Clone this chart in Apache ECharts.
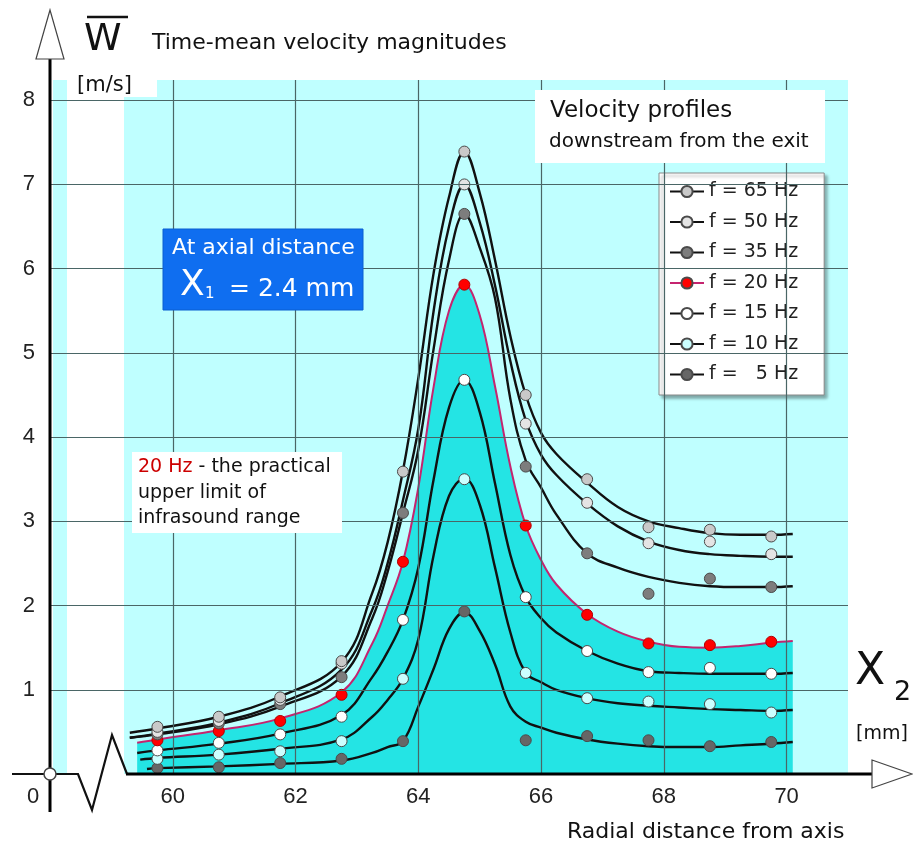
<!DOCTYPE html>
<html>
<head>
<meta charset="utf-8">
<script src="https://cdn.jsdelivr.net/npm/echarts@6/dist/echarts.min.js"></script>
<style>html,body{margin:0;padding:0;background:#fff}#main{width:913px;height:852px}</style>
</head>
<body>
<div id="main"></div>
<script>
// ---- data ----
const freqNames = ['f = 65 Hz', 'f = 50 Hz', 'f = 35 Hz', 'f = 20 Hz', 'f = 15 Hz', 'f = 10 Hz', 'f =   5 Hz'];
const markerColors = ['#c9c9c9', '#e4e4e4', '#7d7d7d', '#ff0000', '#ffffff', '#cbffff', '#666666'];

// measured points (radial distance, mm)
const pointX = [59.75, 60.75, 61.75, 62.75, 63.75, 64.75, 65.75, 66.75, 67.75, 68.75, 69.75];
const pts65 = [0.56, 0.68, 0.91, 1.34, 3.59, 7.39, 4.50, 3.50, 2.93, 2.90, 2.82];
const pts50 = [0.50, 0.63, 0.88, 1.31, null, 7.00, 4.16, 3.22, 2.74, 2.76, 2.61];
const pts35 = [0.47, 0.60, 0.83, 1.15, 3.10, 6.65, 3.65, 2.62, 2.14, 2.32, 2.22];
const pts20 = [0.40, 0.51, 0.63, 0.94, 2.52, 5.81, 2.95, 1.89, 1.55, 1.53, 1.57];
const pts15 = [0.28, 0.37, 0.47, 0.68, 1.83, 4.68, 2.10, 1.46, 1.21, 1.26, 1.19];
const pts10 = [0.18, 0.23, 0.27, 0.39, 1.13, 3.50, 1.20, 0.90, 0.86, 0.83, 0.73];
const pts05 = [0.07, 0.08, 0.13, 0.18, 0.39, 1.93, 0.40, 0.45, 0.40, 0.33, 0.38];

// fitted profile curves
const curveX = [null, 59.75, 60.75, 61.75, 62.75, 63.25, 63.5, 63.75, 64.0, 64.25, 64.5, 64.75, 65.0, 65.25, 65.5, 65.75, 66.0, 66.25, 66.75, 67.25, 67.75, 68.25, 68.75, 69.25, 69.75, 70.1];
const curveStartX = [59.3, 59.3, 59.3, 59.42, 59.42, 59.47, 59.58];
const crv65 = [0.49, 0.54, 0.68, 0.92, 1.33, 2.15, 2.75, 3.60, 4.70, 5.95, 6.85, 7.39, 6.90, 6.10, 5.20, 4.50, 4.05, 3.80, 3.46, 3.17, 3.00, 2.92, 2.86, 2.84, 2.84, 2.85];
const crv50 = [0.43, 0.48, 0.61, 0.84, 1.24, 1.95, 2.50, 3.25, 4.10, 5.50, 6.50, 7.00, 6.55, 5.80, 4.90, 4.20, 3.79, 3.55, 3.21, 2.94, 2.76, 2.66, 2.61, 2.59, 2.58, 2.58];
const crv35 = [0.43, 0.47, 0.59, 0.80, 1.16, 1.85, 2.40, 3.10, 3.85, 5.05, 6.10, 6.65, 6.25, 5.65, 4.45, 3.72, 3.40, 3.08, 2.62, 2.45, 2.34, 2.27, 2.23, 2.22, 2.22, 2.23];
const crv20 = [0.37, 0.41, 0.52, 0.66, 0.97, 1.55, 2.00, 2.52, 3.40, 4.60, 5.50, 5.81, 5.45, 4.60, 3.65, 2.95, 2.54, 2.25, 1.90, 1.69, 1.57, 1.51, 1.50, 1.52, 1.56, 1.58];
const crv15 = [0.25, 0.28, 0.36, 0.48, 0.70, 1.15, 1.45, 1.83, 2.45, 3.50, 4.35, 4.68, 4.30, 3.45, 2.60, 2.10, 1.85, 1.68, 1.46, 1.31, 1.22, 1.20, 1.19, 1.19, 1.19, 1.20];
const crv10 = [0.17, 0.19, 0.23, 0.30, 0.41, 0.68, 0.88, 1.13, 1.60, 2.60, 3.30, 3.51, 3.20, 2.45, 1.68, 1.20, 1.09, 1.00, 0.90, 0.84, 0.81, 0.79, 0.77, 0.76, 0.75, 0.76];
const crv05 = [0.06, 0.07, 0.09, 0.12, 0.16, 0.25, 0.32, 0.39, 0.80, 1.25, 1.72, 1.92, 1.70, 1.30, 0.80, 0.62, 0.55, 0.49, 0.41, 0.36, 0.33, 0.32, 0.32, 0.34, 0.36, 0.38];

// axes
const xTicks = [60, 62, 64, 66, 68, 70];
const yTicks = [1, 2, 3, 4, 5, 6, 7, 8];

const pointSets = [pts65, pts50, pts35, pts20, pts15, pts10, pts05];
const curveSets = [crv65, crv50, crv35, crv20, crv15, crv10, crv05];

function curveData(i) {
  return curveSets[i].map((v, k) => [k === 0 ? curveStartX[i] : curveX[k], v]);
}
function pointData(i) {
  return pointX.map((x, k) => pointSets[i][k] == null ? null : [x, pointSets[i][k]]).filter(d => d);
}

const FONT = 'DejaVu Sans';
const NUMFONT = 'Liberation Sans';

const series = [];
// grid lines
series.push({
  type: 'line', name: 'grid', data: [], z: 2, silent: true,
  markLine: {
    silent: true, symbol: ['none', 'none'], label: { show: false },
    lineStyle: { color: '#4a6666', width: 1.2, type: 'solid' },
    data: yTicks.map(v => ({ yAxis: v })).concat(xTicks.map(v => ({ xAxis: v })))
  }
});
// fill under 20 Hz curve
series.push({
  type: 'line', name: 'fill20', data: curveData(3), smooth: 0.4, showSymbol: false, silent: true, z: 1,
  lineStyle: { width: 0 }, areaStyle: { color: '#24e4e4', opacity: 1 }
});
// curves
for (let i = 0; i < 7; i++) {
  const red = i === 3;
  series.push({
    type: 'line', name: freqNames[i], data: curveData(i), smooth: 0.4, showSymbol: false,
    symbol: 'circle', symbolSize: 11, z: 3,
    lineStyle: { color: red ? '#c5246f' : '#111111', width: red ? 2 : 2.4 },
    itemStyle: { color: markerColors[i], borderColor: '#4a4a4a', borderWidth: 1 }
  });
}
// points
for (let i = 6; i >= 0; i--) {
  series.push({
    type: 'scatter', name: 'pts' + i, data: pointData(i), symbol: 'circle', symbolSize: 11, z: 4,
    itemStyle: { color: markerColors[i], borderColor: i === 3 ? '#b00000' : '#4a4a4a', borderWidth: 1, opacity: 1 }
  });
}

function txt(x, y, text, size, opts) {
  return Object.assign({
    type: 'text', x: x, y: y, z: 100,
    style: Object.assign({ text: text, font: size + 'px "' + FONT + '"', fill: '#111', textVerticalAlign: 'middle', textAlign: 'left' }, opts || {})
  });
}

const graphic = [
  // light cyan background
  { type: 'rect', z: -10, shape: { x: 53, y: 80, width: 14, height: 694 }, style: { fill: '#bfffff' } },
  { type: 'rect', z: -10, shape: { x: 124, y: 97, width: 724, height: 677 }, style: { fill: '#bfffff' } },
  { type: 'rect', z: -10, shape: { x: 157, y: 80, width: 691, height: 17 }, style: { fill: '#bfffff' } },
  // y axis
  { type: 'line', z: 50, shape: { x1: 50, y1: 58, x2: 50, y2: 812 }, style: { stroke: '#000', lineWidth: 3 } },
  { type: 'polygon', z: 51, shape: { points: [[50, 10], [36, 59], [64, 59]] }, style: { fill: '#fff', stroke: '#444', lineWidth: 1.2 } },
  // x axis with break
  { type: 'polyline', z: 50, shape: { points: [[12, 774], [78, 774], [92, 810], [112, 735], [127, 774]] }, style: { stroke: '#111', lineWidth: 2.2, fill: null } },
  { type: 'line', z: 50, shape: { x1: 126, y1: 774, x2: 873, y2: 774 }, style: { stroke: '#000', lineWidth: 3 } },
  { type: 'polygon', z: 51, shape: { points: [[872, 760], [912, 774], [872, 788]] }, style: { fill: '#fff', stroke: '#444', lineWidth: 1.2 } },
  { type: 'circle', z: 52, shape: { cx: 50, cy: 774, r: 6 }, style: { fill: '#fff', stroke: '#444', lineWidth: 1.5 } },
  { type: 'text', z: 100, x: 33, y: 797, style: { text: '0', font: '22px "' + NUMFONT + '"', fill: '#222', textAlign: 'center', textVerticalAlign: 'middle' } },
  // y label
  txt(84, 40, 'W', 38),
  { type: 'line', z: 100, shape: { x1: 87, y1: 17, x2: 128, y2: 17 }, style: { stroke: '#111', lineWidth: 2.5 } },
  txt(77, 86, '[m/s]', 21),
  txt(152, 43, 'Time-mean velocity magnitudes', 22),
  // x label
  txt(855, 673, 'X', 44),
  txt(894, 693, '2', 27),
  txt(856, 734, '[mm]', 19),
  txt(567, 832, 'Radial distance from axis', 22),
  // velocity profiles box
  { type: 'rect', z: 90, shape: { x: 535, y: 90, width: 290, height: 73 }, style: { fill: '#fff' } },
  txt(550, 111, 'Velocity profiles', 23),
  txt(549, 142, 'downstream from the exit', 20),
  // 20 Hz note
  { type: 'rect', z: 90, shape: { x: 132, y: 452, width: 210, height: 81 }, style: { fill: '#fff' } },
  txt(138, 467, '{r|20 Hz} - the practical', 19, { rich: { r: { fill: '#cc0000', font: '19px "' + FONT + '"' } } }),
  txt(138, 493, 'upper limit of', 19),
  txt(138, 518, 'infrasound range', 19),
  // blue box
  { type: 'rect', z: 90, shape: { x: 163, y: 229, width: 200, height: 81 }, style: { fill: '#0f6ef0', stroke: '#0a5ed0', lineWidth: 1 } },
  txt(172, 248, 'At axial distance', 22, { fill: '#fff' }),
  txt(180, 286, 'X', 36, { fill: '#fff' }),
  txt(205, 294, '1', 15, { fill: '#fff' }),
  txt(229, 289, '= 2.4 mm', 25, { fill: '#fff' })
];

const option = {
  animation: false,
  backgroundColor: '#ffffff',
  grid: { left: 50, right: 65, top: 80, bottom: 78, containLabel: false },
  xAxis: {
    type: 'value', min: 58, max: 71, interval: 2,
    axisLine: { show: false }, axisTick: { show: false }, splitLine: { show: false },
    axisLabel: {
      margin: 12, fontSize: 22, fontFamily: NUMFONT, color: '#222',
      formatter: v => (xTicks.indexOf(v) >= 0 ? String(v) : '')
    }
  },
  yAxis: {
    type: 'value', min: 0, max: 8.24, interval: 1,
    axisLine: { show: false }, axisTick: { show: false }, splitLine: { show: false },
    axisLabel: {
      margin: 15, fontSize: 22, fontFamily: NUMFONT, color: '#222',
      formatter: v => (yTicks.indexOf(v) >= 0 ? String(v) : '')
    }
  },
  legend: {
    data: freqNames, orient: 'vertical', left: 659, top: 173,
    itemWidth: 34, itemHeight: 14, itemGap: 11.5,
    padding: [9, 26, 11, 10],
    backgroundColor: '#ffffff', borderColor: '#8a8a8a', borderWidth: 1,
    shadowColor: 'rgba(0,0,0,0.35)', shadowOffsetX: 3, shadowOffsetY: 3, shadowBlur: 3,
    selectedMode: false,
    textStyle: { fontFamily: FONT, fontSize: 19, color: '#222' }
  },
  graphic: graphic,
  series: series
};

const chart = echarts.init(document.getElementById('main'));
chart.setOption(option);
</script>
</body>
</html>
